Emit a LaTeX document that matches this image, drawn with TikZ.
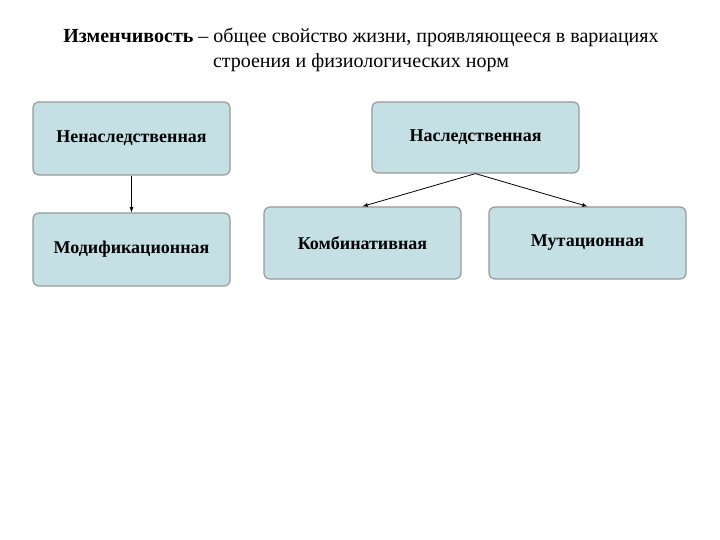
\documentclass[tikz,border=0pt]{standalone}
\usepackage{fontspec}
\setmainfont{Liberation Serif}
\begin{document}
\begin{tikzpicture}[x=1pt,y=-1pt,
 box/.style={draw=black!40,line width=1.2pt,fill={rgb,255:red,196;green,224;blue,228},rounded corners=6pt,inner sep=0pt,font=\fontsize{18}{20}\selectfont\bfseries},
 arr/.style={-latex,line width=0.8pt}]
\useasboundingbox (0,0) rectangle (720,540);
\fill[white] (0,0) rectangle (720,540);
\node[align=center,font=\fontsize{20}{25}\selectfont] (t) at (361,50) {\textbf{Изменчивость} -- общее свойство жизни, проявляющееся в вариациях\\строения и физиологических норм};
\node[box,minimum width=197pt,minimum height=73pt] (a) at (131.5,138.5) {Ненаследственная};
\node[box,minimum width=207pt,minimum height=71pt] (b) at (475.5,137.5) {Наследственная};
\node[box,minimum width=197pt,minimum height=73pt] (c) at (131.5,249.5) {Модификационная};
\node[box,minimum width=197pt,minimum height=72pt] (d) at (362.5,243) {Комбинативная};
\node[box,minimum width=197pt,minimum height=72pt] (e) at (587.5,243) {Мутационная};
\draw[arr] (a.south) -- (c.north);
\draw[arr] (b.south) -- (d.north);
\draw[arr] (b.south) -- (e.north);
\end{tikzpicture}
\end{document}
